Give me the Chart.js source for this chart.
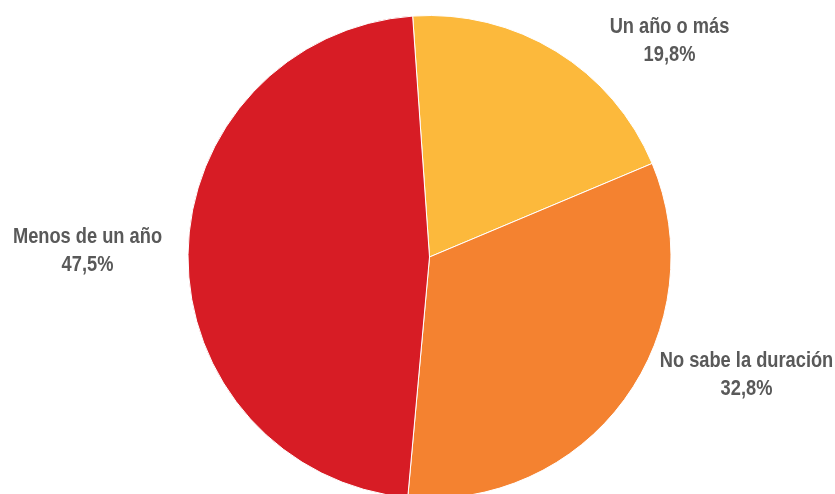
<!DOCTYPE html>
<html>
<head>
<meta charset="utf-8">
<script src="https://cdn.jsdelivr.net/npm/chart.js@4/dist/chart.umd.min.js"></script>
<style>
    html, body { margin: 0; padding: 0; background: #fff; overflow: hidden; }
    #wrap { position: relative; width: 835px; height: 500px; }
</style>
</head>
<body>
<div id="wrap"><canvas id="pie"></canvas></div>
<script>
    // datos
    var categorias = ['Un año o más', 'No sabe la duración', 'Menos de un año'];
    var porcentajes = [19.8, 32.8, 47.5];
    var etiquetas = ['19,8%', '32,8%', '47,5%'];
    var colores = ['#FCB93C', '#F48230', '#D71C25'];

    // desplazamiento de cada etiqueta respecto al centro del pastel (px)
    var posEtiquetas = [
        { dx: 240, dy: -224 },
        { dx: 317, dy: 110 },
        { dx: -342, dy: -14 }
    ];

    var etiquetasPlugin = {
        id: 'etiquetasPie',
        afterDatasetsDraw: function (chart) {
            var ctx = chart.ctx;
            var meta = chart.getDatasetMeta(0);
            meta.data.forEach(function (arc, i) {
                var x = arc.x + posEtiquetas[i].dx;
                var y = arc.y + posEtiquetas[i].dy;
                ctx.save();
                ctx.translate(x, y);
                ctx.scale(0.83, 1); // letra estrecha tipo Arial Narrow
                ctx.fillStyle = '#595959';
                ctx.font = 'bold 22px "Liberation Sans", Arial, sans-serif';
                ctx.textAlign = 'center';
                ctx.textBaseline = 'alphabetic';
                ctx.fillText(categorias[i], 0, 0);
                ctx.fillText(etiquetas[i], 0, 28);
                ctx.restore();
            });
        }
    };

    new Chart(document.getElementById('pie').getContext('2d'), {
        type: 'pie',
        data: {
            labels: categorias,
            datasets: [{
                data: porcentajes,
                backgroundColor: colores,
                borderColor: '#ffffff',
                borderWidth: 1
            }]
        },
        options: {
            responsive: true,
            maintainAspectRatio: false,
            animation: false,
            rotation: -4,
            layout: { padding: { top: 15, bottom: 1, left: 24, right: 0 } },
            plugins: {
                legend: { display: false },
                tooltip: { enabled: false }
            }
        },
        plugins: [etiquetasPlugin]
    });
</script>
</body>
</html>
